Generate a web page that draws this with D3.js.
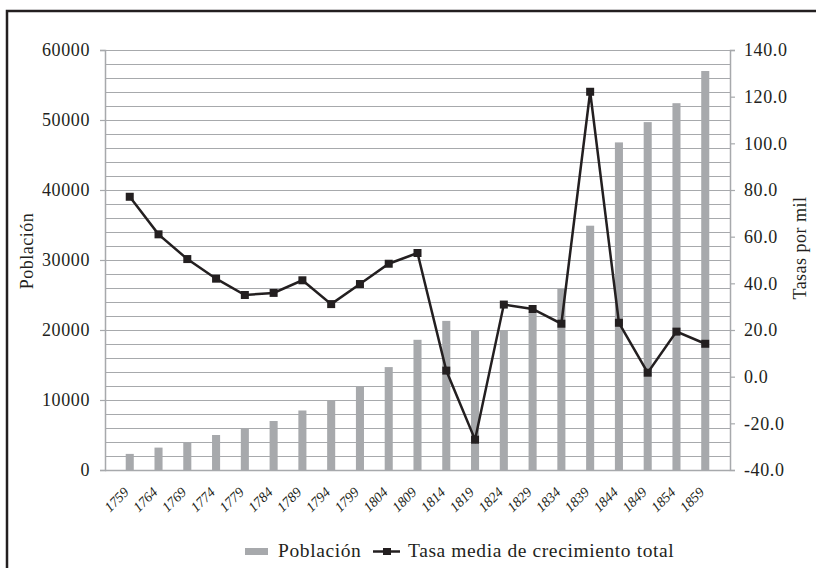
<!DOCTYPE html>
<html>
<head>
<meta charset="utf-8">
<script src="https://cdn.jsdelivr.net/npm/d3@7"></script>
<style>
  body { margin: 0; background: #fff; }
  svg text { font-family: 'Liberation Serif', 'Times New Roman', 'DejaVu Serif', serif; }
</style>
</head>
<body>
<div id="chart"></div>
<script>
const years = ['1759', '1764', '1769', '1774', '1779', '1784', '1789', '1794', '1799', '1804', '1809',
  '1814', '1819', '1824', '1829', '1834', '1839', '1844', '1849', '1854', '1859'];
const poblacion = [2300, 3200, 4000, 5000, 6000, 7000, 8500, 10000, 12000, 14700, 18600,
  21300, 20000, 20000, 22500, 26000, 34900, 46800, 49700, 52400, 57000];
const tasa = [77.1, 61.0, 50.4, 42.0, 35.0, 35.9, 41.3, 31.1, 39.7, 48.4, 53.0,
  2.6, -27.0, 30.9, 29.0, 22.7, 122.1, 23.1, 1.7, 19.3, 14.1];
const leftTicks = [0, 10000, 20000, 30000, 40000, 50000, 60000];
const rightTicks = [-40, -20, 0, 20, 40, 60, 80, 100, 120, 140];

const width = 816, height = 568;
const margin = { top: 50, right: 86, bottom: 98, left: 105 };
const innerW = width - margin.left - margin.right;
const innerH = height - margin.top - margin.bottom;
const serif = "'Liberation Serif', 'Times New Roman', serif";
const ink = '#231f20';
const gridCol = '#a7a9ac';

const svg = d3.select('#chart').append('svg')
  .attr('width', width).attr('height', height)
  .attr('viewBox', `0 0 ${width} ${height}`);

// frame (only top and left edges fall inside the picture)
svg.append('path')
  .attr('d', `M7,${height + 2}V11H${width + 2}`)
  .attr('fill', 'none').attr('stroke', ink).attr('stroke-width', 2.5);

const g = svg.append('g').attr('transform', `translate(${margin.left},${margin.top})`);

const x = d3.scaleBand().domain(years).range([0, innerW]).padding(0.72).align(0.5);
const yL = d3.scaleLinear().domain([0, 60000]).range([innerH, 0]);
const yR = d3.scaleLinear().domain([-40, 140]).range([innerH, 0]);

// gridlines every 2000
g.append('g').selectAll('line').data(d3.range(2000, 60001, 2000)).join('line')
  .attr('x1', 0).attr('x2', innerW)
  .attr('y1', d => Math.round(yL(d)) + 0.5).attr('y2', d => Math.round(yL(d)) + 0.5)
  .attr('stroke', gridCol).attr('stroke-width', 1.2);

// bars
g.append('g').selectAll('rect').data(years).join('rect')
  .attr('x', d => x(d)).attr('width', x.bandwidth())
  .attr('y', (d, i) => yL(poblacion[i]))
  .attr('height', (d, i) => innerH - yL(poblacion[i]))
  .attr('fill', gridCol);

// left axis
const axL = g.append('g')
  .call(d3.axisLeft(yL).tickValues(leftTicks).tickSize(5).tickPadding(10).tickFormat(d3.format('d')));
axL.attr('font-family', serif);
axL.select('.domain').attr('stroke', gridCol).attr('stroke-width', 1.5);
axL.selectAll('.tick line').attr('stroke', gridCol).attr('stroke-width', 1.2);
axL.selectAll('text').attr('font-size', 18).attr('letter-spacing', 0.6).attr('fill', ink);

// right axis (plain hyphen for negatives, as in the source)
const axR = g.append('g').attr('transform', `translate(${innerW},0)`)
  .call(d3.axisRight(yR).tickValues(rightTicks).tickSize(5).tickPadding(9).tickFormat(d => d.toFixed(1)));
axR.attr('font-family', serif);
axR.select('.domain').attr('stroke', gridCol).attr('stroke-width', 1.5);
axR.selectAll('.tick line').attr('stroke', gridCol).attr('stroke-width', 1.2);
axR.selectAll('text').attr('font-size', 18).attr('letter-spacing', 0.6).attr('fill', ink);

// bottom axis
const axB = g.append('g').attr('transform', `translate(0,${innerH})`)
  .call(d3.axisBottom(x).tickSize(0).tickPadding(0));
axB.attr('font-family', serif);
axB.select('.domain').attr('stroke', gridCol).attr('stroke-width', 1.5).attr('d', `M0,0.5H${innerW}`);
axB.selectAll('text')
  .attr('font-size', 14).attr('fill', ink).attr('font-style', 'italic')
  .attr('dy', null).attr('y', 0)
  .attr('transform', 'translate(0,23) rotate(-45)')
  .style('text-anchor', 'end');

// line + square markers
const cx = d => x(d) + x.bandwidth() / 2;
const line = d3.line().x((d, i) => cx(years[i])).y(d => yR(d));
g.append('path').datum(tasa).attr('d', line)
  .attr('fill', 'none').attr('stroke', ink).attr('stroke-width', 2.5).attr('stroke-linejoin', 'miter');
g.append('g').selectAll('rect').data(tasa).join('rect')
  .attr('x', (d, i) => cx(years[i]) - 4).attr('y', d => yR(d) - 4)
  .attr('width', 8).attr('height', 8).attr('fill', ink);

// axis titles
svg.append('text')
  .attr('transform', 'translate(33,251) rotate(-90)')
  .attr('text-anchor', 'middle').attr('font-size', 18).attr('letter-spacing', 0.5).attr('fill', ink)
  .text('Población');
svg.append('text')
  .attr('transform', 'translate(806,248) rotate(-90)')
  .attr('text-anchor', 'middle').attr('font-size', 18).attr('letter-spacing', 0.5).attr('fill', ink)
  .text('Tasas por mil');

// legend
const leg = svg.append('g').attr('transform', 'translate(0,551)');
leg.append('rect').attr('x', 245).attr('y', -3).attr('width', 23).attr('height', 7).attr('fill', gridCol);
leg.append('text').attr('x', 278).attr('y', 6).attr('font-size', 19.5).attr('letter-spacing', 0.6)
  .attr('fill', ink).text('Población');
leg.append('line').attr('x1', 373).attr('x2', 400).attr('y1', 0.5).attr('y2', 0.5)
  .attr('stroke', ink).attr('stroke-width', 2.5);
leg.append('rect').attr('x', 383).attr('y', -3).attr('width', 8).attr('height', 7).attr('fill', ink);
leg.append('text').attr('x', 408).attr('y', 6).attr('font-size', 19.5).attr('letter-spacing', 0.6)
  .attr('fill', ink).text('Tasa media de crecimiento total');
</script>
</body>
</html>
